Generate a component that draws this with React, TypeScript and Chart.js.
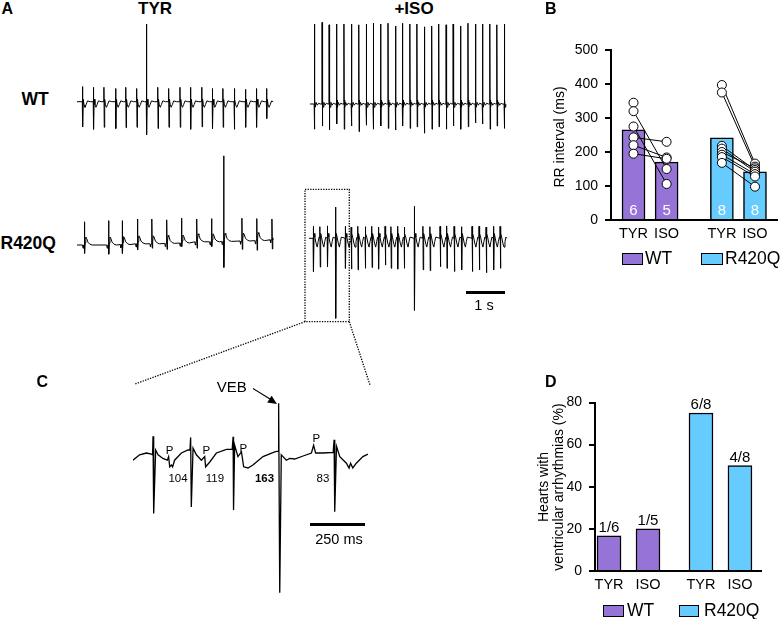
import React, { useEffect, useRef } from "react";
import { Chart, registerables } from "chart.js";

Chart.register(...registerables);

const FONT = '"Liberation Sans", Arial, Helvetica, sans-serif';
const INK = "#000";
const WT_FILL = "#9673D6";
const R420Q_FILL = "#66CCFF";

// ---------- Panel A: surface ECG sweeps ----------
// beat times (s from sweep start), R height and S depth (mV), baseline (mV)
const WT_TYR_BEATS = [0.14, 0.42, 0.69, 0.99, 1.25, 1.53, 1.78, 2.07, 2.35, 2.64, 2.91, 3.2, 3.47, 3.74, 4.03, 4.32, 4.6, 4.86];
const WT_TYR_R = [0.38, 0.36, 0.36, 0.33, 0.36, 0.33, 1.94, 0.36, 0.33, 0.36, 0.36, 0.36, 0.33, 0.33, 0.33, 0.31, 0.33, 0.33];
const WT_TYR_S = [0.63, 0.69, 0.64, 0.67, 0.65, 0.64, 0.83, 0.67, 0.64, 0.64, 0.69, 0.63, 0.67, 0.64, 0.69, 0.64, 0.64, 0.42];
const WT_TYR_WAVE: [number, number][] = [[0.02, 0.06], [0.04, -0.08], [0.065, -0.14], [0.095, -0.07], [0.13, 0.02], [0.2, 0]];

const WT_ISO_BEATS = [0.11, 0.31, 0.49, 0.68, 0.87, 1.06, 1.25, 1.44, 1.62, 1.81, 2.0, 2.19, 2.37, 2.56, 2.74, 2.93, 3.12, 3.3, 3.49, 3.67, 3.86, 4.05, 4.24, 4.42, 4.61, 4.79, 4.98];
const WT_ISO_R = [2.0, 2.04, 1.98, 2.0, 2.0, 2.0, 1.98, 2.0, 2.02, 2.0, 2.02, 1.95, 2.02, 2.0, 2.0, 1.93, 1.95, 2.0, 1.98, 2.0, 1.95, 2.02, 2.0, 2.0, 2.0, 1.98, 2.0];
const WT_ISO_S = [0.63, 0.55, 0.65, 0.5, 0.63, 0.55, 0.69, 0.53, 0.63, 0.55, 0.61, 0.65, 0.55, 0.61, 0.57, 0.73, 0.63, 0.57, 0.63, 0.55, 0.63, 0.57, 0.47, 0.5, 0.63, 0.55, 0.61];
const WT_ISO_WAVE: [number, number][] = [[0.015, 0.1], [0.025, -0.08], [0.045, 0.04], [0.075, -0.03], [0.11, 0.02], [0.15, 0]];

const R420Q_TYR_BEATS = [0.19, 0.81, 1.16, 1.55, 1.92, 2.3, 2.68, 3.07, 3.45, 3.76, 4.23, 4.61, 5.0];
const R420Q_TYR_R = [0.58, 0.61, 0.6, 0.62, 0.62, 0.59, 0.62, 0.57, 0.58, 2.14, 0.57, 0.55, 0.52];
const R420Q_TYR_S = [0.21, 0.23, 0.22, 0.15, 0.11, 0.15, 0.09, 0.16, 0.12, 0.65, 0.21, 0.24, 0.23];
const R420Q_TYR_BASE = [0, 0, 0.01, 0.03, 0.03, 0.04, 0.05, 0.08, 0.08, 0.09, 0.1, 0.11, 0.13];
const R420Q_TYR_WAVE: [number, number][] = [[0.02, 0.05], [0.035, 0.2], [0.055, 0.17], [0.09, 0.07], [0.14, 0.02], [0.2, 0]];
const R420Q_TYR_PRE: [number, number][] = [[-0.05, 0], [-0.035, -0.08], [-0.022, 0]];

const R420Q_ISO_BEATS = [0.11, 0.28, 0.47, 0.68, 0.93, 1.08, 1.25, 1.44, 1.61, 1.78, 1.95, 2.1, 2.27, 2.44, 2.7, 2.92, 3.1, 3.36, 3.53, 3.72, 3.91, 4.18, 4.36, 4.54, 4.73, 4.9];
const R420Q_ISO_R = [0.3, 0.29, 0.31, 0.78, 0.3, 0.28, 0.3, 0.29, 0.3, 0.28, 0.3, 0.29, 0.3, 0.28, 0.8, 0.3, 0.29, 0.3, 0.31, 0.3, 0.29, 0.3, 0.3, 0.28, 0.3, 0.3];
const R420Q_ISO_S = [0.83, 0.72, 0.71, 2.0, 0.75, 0.77, 0.79, 0.75, 0.73, 0.77, 0.67, 0.75, 0.77, 0.75, 1.8, 0.79, 0.81, 0.71, 0.75, 0.83, 0.79, 0.83, 0.79, 0.86, 0.79, 0.75];
const R420Q_ISO_WAVE: [number, number][] = [[0.02, 0.12], [0.04, 0.03], [0.07, -0.12], [0.1, -0.22], [0.125, -0.08], [0.15, 0.03]];

// ---------- Panel C: expanded R420Q +ISO sweep (ms, mV) ----------
const C_TIME_MS = [0, 30, 61, 84, 89, 91, 94, 103, 114, 136, 156, 162, 167, 175, 180, 189, 220, 250, 259, 262, 265, 273, 288, 311, 326, 330, 349, 379, 425, 451, 455, 457, 462, 477, 493, 503, 523, 545, 591, 644, 660, 662, 667, 674, 682, 697, 712, 735, 773, 811, 821, 830, 864, 910, 914, 917, 925, 940, 970, 982, 989, 999, 1015, 1045, 1068];
const C_MV = [-0.07, 0.02, 0.05, 0.03, 0.02, 0.33, -0.96, 0.1, 0.02, -0.04, -0.07, -0.01, -0.18, -0.15, -0.18, -0.07, 0.05, 0.1, 0.1, 0.31, -0.85, 0.13, 0.02, -0.07, -0.01, -0.18, -0.1, 0.05, 0.11, 0.11, 0.32, -0.9, 0.18, -0.01, 0.07, -0.18, -0.2, -0.15, -0.01, 0.07, 0.08, 0.88, -2.28, 0.02, -0.01, -0.07, -0.04, -0.05, 0, 0.05, 0.18, 0.05, 0.05, 0.06, 0.27, -0.93, 0.16, -0.01, -0.12, -0.2, -0.12, -0.2, -0.12, -0.01, 0.03];
const C_INTERVALS = ["104", "119", "163", "83"];

// ---------- Panel B: RR interval (ms) ----------
const CONDITIONS = ["TYR", "ISO"];
const GENOTYPES = ["WT", "R420Q"];
const RR_MEAN_WT = [265, 170];
const RR_MEAN_R420Q = [242, 142];
const RR_N_WT = [6, 5];
const RR_N_R420Q = [8, 8];
const RR_WT_TYR = [345, 320, 275, 243, 220, 195];
const RR_WT_ISO = [230, 184, 180, 150, 106];
const RR_R420Q_TYR = [397, 375, 218, 210, 200, 192, 185, 168];
const RR_R420Q_ISO = [166, 157, 152, 147, 142, 135, 128, 98];
// same heart before/after ISO: [TYR index, ISO index]
const RR_WT_PAIRS = [[1, 3], [2, 4], [3, 0], [4, 1], [5, 2]];
const RR_R420Q_PAIRS = [[0, 0], [1, 1], [2, 3], [3, 4], [4, 2], [5, 5], [6, 6], [7, 7]];
const RR_TICKS_MAX = 500;

// ---------- Panel D: hearts with ventricular arrhythmias ----------
const ARR_WT_HEARTS = [1, 1];
const ARR_WT_TOTAL = [6, 5];
const ARR_R420Q_HEARTS = [6, 4];
const ARR_R420Q_TOTAL = [8, 8];

// sweep scales
const A_PX_PER_S = 39;
const A_PX_PER_MV = 40;
const C_PX_PER_MS = 0.22;
const C_PX_PER_MV = 60;

type Pt = { x: number; y: number };

function ecgSweep(
  beats: number[], r: number[], s: number[], wave: [number, number][], end: number,
  base?: number[], pre?: [number, number][]
): Pt[] {
  const pts: Pt[] = [{ x: 0, y: base ? base[0] : 0 }];
  beats.forEach((t, i) => {
    const b = base ? base[i] : 0;
    const next = i + 1 < beats.length ? beats[i + 1] : end + 1;
    const guard = next - (pre ? 0.06 : 0.012);
    (pre || []).forEach(([dt, v]) => { if (t + dt > 0) pts.push({ x: t + dt, y: b + v }); });
    pts.push({ x: t - 0.004, y: b });
    pts.push({ x: t, y: b + r[i] });
    pts.push({ x: t + 0.009, y: b - s[i] });
    wave.forEach(([dt, v]) => { if (t + dt < guard && t + dt <= end) pts.push({ x: t + dt, y: b + v }); });
  });
  const last = pts[pts.length - 1];
  if (last.x < end) pts.push({ x: end, y: base ? base[base.length - 1] : 0 });
  return pts.filter((p) => p.x <= end);
}

function Trace(props: {
  left: number; top: number; width: number; height: number; baseline: number;
  pxPerX: number; pxPerY: number; points: Pt[]; lineWidth?: number;
}) {
  const { left, top, width, height, baseline, pxPerX, pxPerY, points, lineWidth = 1 } = props;
  const ref = useRef<HTMLCanvasElement>(null);
  useEffect(() => {
    const chart = new Chart(ref.current as HTMLCanvasElement, {
      type: "line",
      data: {
        datasets: [{
          data: points as any, borderColor: INK, borderWidth: lineWidth,
          pointRadius: 0, tension: 0, fill: false,
        }],
      },
      options: {
        responsive: false, animation: false, events: [], devicePixelRatio: 1,
        layout: { padding: 0 },
        plugins: { legend: { display: false }, tooltip: { enabled: false } },
        scales: {
          x: { type: "linear", display: false, min: 0, max: width / pxPerX },
          y: { type: "linear", display: false, min: -(height - baseline) / pxPerY, max: baseline / pxPerY },
        },
      },
    });
    return () => chart.destroy();
  }, []);
  return <canvas ref={ref} width={width} height={height} style={{ position: "absolute", left, top, width, height }} />;
}

function Txt(props: { x: number; y: number; size: number; bold?: boolean; align?: "left" | "center"; color?: string; children: any }) {
  const { x, y, size, bold, align = "left", color = INK, children } = props;
  return (
    <div style={{
      position: "absolute", left: x, top: y - size * 0.8465, fontSize: size, lineHeight: `${size}px`,
      fontWeight: bold ? 700 : 400, whiteSpace: "nowrap", color, fontFamily: FONT,
      transform: align === "center" ? "translateX(-50%)" : undefined,
    }}>{children}</div>
  );
}

function VText(props: { cx: number; cy: number; size: number; children: any }) {
  return (
    <div style={{
      position: "absolute", left: props.cx, top: props.cy, fontSize: props.size, lineHeight: `${props.size}px`,
      whiteSpace: "nowrap", fontFamily: FONT, transform: "translate(-50%, -50%) rotate(-90deg)",
    }}>{props.children}</div>
  );
}

function LegendItem(props: { x: number; y: number; w: number; h: number; fill: string; label: string; textX: number; baseline: number }) {
  return (
    <>
      <div style={{ position: "absolute", left: props.x, top: props.y, width: props.w, height: props.h, background: props.fill, border: `1.5px solid ${INK}`, boxSizing: "border-box" }} />
      <Txt x={props.textX} y={props.baseline} size={17.5}>{props.label}</Txt>
    </>
  );
}

const axisTickFont = { family: FONT, size: 14 };

function RRChart() {
  const ref = useRef<HTMLCanvasElement>(null);
  useEffect(() => {
    const first = 0.68, groupStep = 2.67;
    const pos = (g: number, c: number) => first + g * groupStep + c;
    const tyr = [RR_WT_TYR, RR_R420Q_TYR];
    const iso = [RR_WT_ISO, RR_R420Q_ISO];
    const pairs = [RR_WT_PAIRS, RR_R420Q_PAIRS];
    const means = [RR_MEAN_WT, RR_MEAN_R420Q];
    const counts = [RR_N_WT, RR_N_R420Q];
    const fills = [WT_FILL, R420Q_FILL];
    const datasets: any[] = [];
    GENOTYPES.forEach((g, gi) => {
      datasets.push({
        type: "bar", label: g, counts: counts[gi],
        data: CONDITIONS.map((_, ci) => ({ x: pos(gi, ci), y: means[gi][ci] })),
        backgroundColor: fills[gi], borderColor: INK, borderWidth: 1.5, barThickness: 23, grouped: false, order: 3,
      });
      pairs[gi].forEach(([a, b]) => datasets.push({
        type: "line", data: [{ x: pos(gi, 0), y: tyr[gi][a] }, { x: pos(gi, 1), y: iso[gi][b] }],
        borderColor: INK, borderWidth: 1, pointRadius: 0, order: 2,
      }));
      datasets.push({
        type: "scatter",
        data: [...tyr[gi].map((v) => ({ x: pos(gi, 0), y: v })), ...iso[gi].map((v) => ({ x: pos(gi, 1), y: v }))],
        pointRadius: 4.5, pointBackgroundColor: "#fff", pointBorderColor: INK, pointBorderWidth: 1, order: 1,
      });
    });
    const tickPos = [pos(0, 0), pos(0, 1), pos(1, 0), pos(1, 1)];
    const countLabels = {
      id: "countLabels",
      afterDatasetsDraw(chart: any) {
        const ctx = chart.ctx;
        chart.data.datasets.forEach((ds: any, i: number) => {
          if (!ds.counts) return;
          chart.getDatasetMeta(i).data.forEach((el: any, j: number) => {
            ctx.save();
            ctx.font = `15px ${FONT}`;
            ctx.fillStyle = "#fff";
            ctx.textAlign = "center";
            ctx.textBaseline = "alphabetic";
            ctx.fillText(String(ds.counts[j]), el.x, chart.chartArea.bottom - 5);
            ctx.restore();
          });
        });
      },
    };
    const chart = new Chart(ref.current as HTMLCanvasElement, {
      type: "bar",
      data: { datasets },
      options: {
        responsive: false, animation: false, events: [], devicePixelRatio: 1,
        layout: { padding: { left: 0, right: 1, top: 50, bottom: 0 } },
        plugins: { legend: { display: false }, tooltip: { enabled: false } },
        scales: {
          x: {
            type: "linear", min: 0, max: 5.03, offset: false,
            afterFit: (s: any) => { s.height = 80; },
            afterBuildTicks: (s: any) => { s.ticks = tickPos.map((v) => ({ value: v })); },
            ticks: { callback: (_v: any, i: number) => CONDITIONS[i % 2], font: { family: FONT, size: 14.5 }, color: INK, padding: 5, autoSkip: false, maxRotation: 0 },
            grid: { display: false, drawTicks: false },
            border: { display: true, color: INK, width: 2 },
          },
          y: {
            min: 0, max: RR_TICKS_MAX,
            afterFit: (s: any) => { s.width = 71; },
            ticks: { stepSize: 100, font: axisTickFont, color: INK, padding: 7 },
            grid: { drawOnChartArea: false, drawTicks: true, tickLength: 6, color: INK, lineWidth: 2 },
            border: { display: true, color: INK, width: 2 },
          },
        },
      } as any,
      plugins: [countLabels],
    });
    return () => chart.destroy();
  }, []);
  return <canvas ref={ref} width={243} height={300} style={{ position: "absolute", left: 540, top: 0, width: 243, height: 300 }} />;
}

function ArrhythmiaChart() {
  const ref = useRef<HTMLCanvasElement>(null);
  useEffect(() => {
    const first = 0.36, groupStep = 2.36;
    const pos = (g: number, c: number) => first + g * groupStep + c;
    const hearts = [ARR_WT_HEARTS, ARR_R420Q_HEARTS];
    const totals = [ARR_WT_TOTAL, ARR_R420Q_TOTAL];
    const fills = [WT_FILL, R420Q_FILL];
    const datasets: any[] = GENOTYPES.map((g, gi) => ({
      type: "bar", label: g,
      fractions: CONDITIONS.map((_, ci) => `${hearts[gi][ci]}/${totals[gi][ci]}`),
      data: CONDITIONS.map((_, ci) => ({ x: pos(gi, ci), y: (100 * hearts[gi][ci]) / totals[gi][ci] })),
      backgroundColor: fills[gi], borderColor: INK, borderWidth: 1.5, barThickness: 24, grouped: false,
    }));
    const tickPos = [pos(0, 0), pos(0, 1), pos(1, 0), pos(1, 1)];
    const fractionLabels = {
      id: "fractionLabels",
      afterDatasetsDraw(chart: any) {
        const ctx = chart.ctx;
        chart.data.datasets.forEach((ds: any, i: number) => {
          chart.getDatasetMeta(i).data.forEach((el: any, j: number) => {
            ctx.save();
            ctx.font = `15px ${FONT}`;
            ctx.fillStyle = INK;
            ctx.textAlign = "center";
            ctx.textBaseline = "alphabetic";
            ctx.fillText(ds.fractions[j], el.x, el.y - 4);
            ctx.restore();
          });
        });
      },
    };
    const chart = new Chart(ref.current as HTMLCanvasElement, {
      type: "bar",
      data: { datasets },
      options: {
        responsive: false, animation: false, events: [], devicePixelRatio: 1,
        layout: { padding: { left: 0, right: 22, top: 22.5, bottom: 0 } },
        plugins: { legend: { display: false }, tooltip: { enabled: false } },
        scales: {
          x: {
            type: "linear", min: 0, max: 4.26, offset: false,
            afterFit: (s: any) => { s.height = 48; },
            afterBuildTicks: (s: any) => { s.ticks = tickPos.map((v) => ({ value: v })); },
            ticks: { callback: (_v: any, i: number) => CONDITIONS[i % 2], font: { family: FONT, size: 14.5 }, color: INK, padding: 5, autoSkip: false, maxRotation: 0 },
            grid: { display: false, drawTicks: false },
            border: { display: true, color: INK, width: 2 },
          },
          y: {
            min: 0, max: 80,
            afterFit: (s: any) => { s.width = 60; },
            ticks: { stepSize: 20, font: axisTickFont, color: INK, padding: 7 },
            grid: { drawOnChartArea: false, drawTicks: true, tickLength: 6, color: INK, lineWidth: 2 },
            border: { display: true, color: INK, width: 2 },
          },
        },
      } as any,
      plugins: [fractionLabels],
    });
    return () => chart.destroy();
  }, []);
  return <canvas ref={ref} width={248} height={239} style={{ position: "absolute", left: 535, top: 380, width: 248, height: 239 }} />;
}

export default function App() {
  const wtTyr = ecgSweep(WT_TYR_BEATS, WT_TYR_R, WT_TYR_S, WT_TYR_WAVE, 5.03);
  const wtIso = ecgSweep(WT_ISO_BEATS, WT_ISO_R, WT_ISO_S, WT_ISO_WAVE, 5.02);
  const rTyr = ecgSweep(R420Q_TYR_BEATS, R420Q_TYR_R, R420Q_TYR_S, R420Q_TYR_WAVE, 5.03, R420Q_TYR_BASE, R420Q_TYR_PRE);
  const rIso = ecgSweep(R420Q_ISO_BEATS, R420Q_ISO_R, R420Q_ISO_S, R420Q_ISO_WAVE, 5.07);
  const cTrace = C_TIME_MS.map((t, i) => ({ x: t, y: C_MV[i] }));

  return (
    <div style={{ position: "absolute", left: 0, top: 0, width: 783, height: 619, background: "#fff", overflow: "hidden", fontFamily: FONT, color: INK }}>
      {/* panel A */}
      <Txt x={1.5} y={15} size={16} bold>A</Txt>
      <Txt x={155} y={14.5} size={17} bold align="center">TYR</Txt>
      <Txt x={414} y={14.5} size={17} bold align="center">+ISO</Txt>
      <Txt x={21.5} y={106} size={17.5} bold>WT</Txt>
      <Txt x={0.5} y={250} size={17.5} bold>R420Q</Txt>
      <Trace left={77} top={15} width={200} height={130} baseline={86.7} pxPerX={A_PX_PER_S} pxPerY={A_PX_PER_MV} points={wtTyr} />
      <Trace left={310} top={15} width={200} height={130} baseline={89} pxPerX={A_PX_PER_S} pxPerY={A_PX_PER_MV} points={wtIso} />
      <Trace left={77} top={150} width={200} height={125} baseline={95} pxPerX={A_PX_PER_S} pxPerY={A_PX_PER_MV} points={rTyr} />
      <Trace left={309} top={195} width={202} height={130} baseline={43.3} pxPerX={A_PX_PER_S} pxPerY={A_PX_PER_MV} points={rIso} />
      <div style={{ position: "absolute", left: 465.7, top: 291.3, width: A_PX_PER_S * 1, height: 2.5, background: INK }} />
      <Txt x={484} y={310} size={14.5} align="center">1 s</Txt>

      <svg width={783} height={619} style={{ position: "absolute", left: 0, top: 0, pointerEvents: "none" }}>
        <g fill="none" stroke={INK} strokeWidth={1.3} strokeDasharray="1.3 1.3">
          <rect x={305} y={189.3} width={44.3} height={132.4} />
          <line x1={305} y1={321.7} x2={135} y2={384} />
          <line x1={349.3} y1={321.7} x2={370} y2={385} />
        </g>
        <line x1={253} y1={388.5} x2={270} y2={399} stroke={INK} strokeWidth={1.2} />
        <polygon points="277,404 267.2,402.5 271.6,395.7" fill={INK} />
      </svg>

      {/* panel C */}
      <Txt x={36.5} y={388} size={16} bold>C</Txt>
      <Txt x={216.7} y={391.7} size={15}>VEB</Txt>
      <Trace left={133} top={395} width={240} height={205} baseline={61} pxPerX={C_PX_PER_MS} pxPerY={C_PX_PER_MV} points={cTrace} lineWidth={1.3} />
      <Txt x={169.5} y={455} size={11.5} align="center">P</Txt>
      <Txt x={206.3} y={455} size={11.5} align="center">P</Txt>
      <Txt x={243.3} y={452.7} size={11.5} align="center">P</Txt>
      <Txt x={316.3} y={442.7} size={11.5} align="center">P</Txt>
      <Txt x={178} y={482.7} size={11.5} align="center">{C_INTERVALS[0]}</Txt>
      <Txt x={215} y={482.7} size={11.5} align="center">{C_INTERVALS[1]}</Txt>
      <Txt x={264.5} y={482.7} size={11.5} bold align="center">{C_INTERVALS[2]}</Txt>
      <Txt x={323} y={482.7} size={11.5} align="center">{C_INTERVALS[3]}</Txt>
      <div style={{ position: "absolute", left: 310, top: 522.7, width: C_PX_PER_MS * 250, height: 3, background: INK }} />
      <Txt x={339} y={544.3} size={14.5} align="center">250 ms</Txt>

      {/* panel B */}
      <Txt x={545} y={15} size={16} bold>B</Txt>
      <RRChart />
      <VText cx={559} cy={136.7} size={14}>RR interval (ms)</VText>
      <LegendItem x={621.7} y={253.3} w={21.6} h={11.7} fill={WT_FILL} label="WT" textX={645} baseline={265} />
      <LegendItem x={701} y={253.3} w={22} h={11.7} fill={R420Q_FILL} label="R420Q" textX={725} baseline={265} />

      {/* panel D */}
      <Txt x={545} y={388} size={16} bold>D</Txt>
      <ArrhythmiaChart />
      <VText cx={543} cy={487} size={14}>Hearts with</VText>
      <VText cx={558} cy={487} size={14}>ventricular arrhythmias (%)</VText>
      <LegendItem x={603} y={605} w={21} h={12} fill={WT_FILL} label="WT" textX={627} baseline={617} />
      <LegendItem x={679} y={605} w={20} h={12} fill={R420Q_FILL} label="R420Q" textX={704} baseline={617} />
    </div>
  );
}
